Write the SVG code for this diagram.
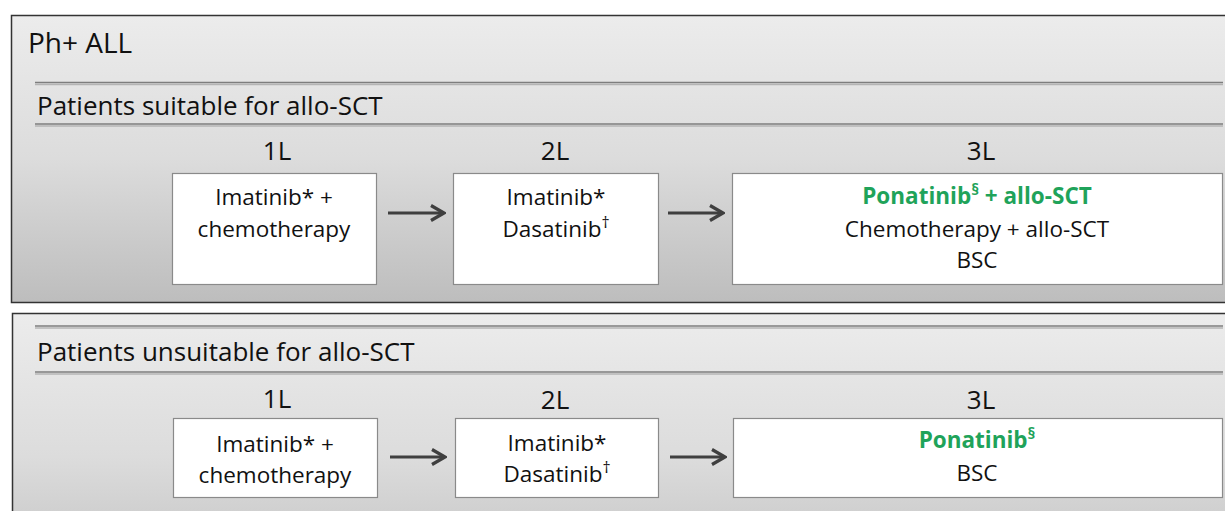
<svg xmlns="http://www.w3.org/2000/svg" width="1225" height="511" viewBox="0 0 1225 511">
  <style>
    text { font-family: "Open Sans", "Liberation Sans", sans-serif; fill: #111; }
    .title { font-size: 28px; }
    .sub { font-size: 26px; }
    .line { font-size: 26px; text-anchor: middle; }
    .box-text { font-size: 22.5px; text-anchor: middle; }
    .green { fill: #1fa35a; font-weight: bold; }
    .sup { font-size: 16px; }
    .panel { stroke: #333; stroke-width: 1.5; fill: url(#panelFill); }
    .box { fill: #fff; stroke: #8a8a8a; stroke-width: 1.2; }
    .rule { stroke: #7e7e7e; stroke-width: 1.6; }
    .rule-shadow { stroke: #b4b4b4; stroke-width: 1.6; }
    .arrow { stroke: #3f3f3f; stroke-width: 3.2; fill: none; marker-end: url(#head); }
  </style>
  <defs>
    <linearGradient id="panelFill" x1="0" y1="0" x2="0" y2="1">
      <stop offset="0" stop-color="#ececec"/>
      <stop offset="0.5" stop-color="#dcdcdc"/>
      <stop offset="1" stop-color="#bdbdbd"/>
    </linearGradient>
    <marker id="head" viewBox="0 0 18 20" refX="16" refY="10" markerWidth="18" markerHeight="20" markerUnits="userSpaceOnUse" orient="auto">
      <path d="M3 2.5 L16 10 L3 17.5" fill="none" stroke="#3f3f3f" stroke-width="3.2" stroke-linejoin="miter"/>
    </marker>
  </defs>

  <rect width="1225" height="511" fill="#fff"/>

  <!-- upper panel: patients suitable for allo-SCT -->
  <g id="panel-suitable">
    <rect class="panel" x="11.5" y="15.5" width="1230" height="287"/>
    <text class="title" x="28" y="53">Ph+ ALL</text>
    <line class="rule-shadow" x1="35" y1="84.5" x2="1223" y2="84.5"/>
    <line class="rule" x1="35" y1="82.5" x2="1223" y2="82.5"/>
    <line class="rule-shadow" x1="35" y1="126" x2="1223" y2="126"/>
    <line class="rule" x1="35" y1="124" x2="1223" y2="124"/>
    <text class="sub" x="37" y="115">Patients suitable for allo-SCT</text>
    <text class="line" x="277" y="160">1L</text>
    <text class="line" x="555" y="160">2L</text>
    <text class="line" x="981" y="160">3L</text>
  </g>

  <g id="s-1L">
    <rect class="box" x="172.5" y="173.5" width="204" height="111"/>
    <text class="box-text" x="274" y="205">Imatinib* +</text>
    <text class="box-text" x="274" y="237">chemotherapy</text>
  </g>
  <g id="s-2L">
    <rect class="box" x="453.5" y="173.5" width="205" height="111"/>
    <text class="box-text" x="556" y="205">Imatinib*</text>
    <text class="box-text" x="556" y="237">Dasatinib<tspan class="sup" dy="-9">†</tspan></text>
  </g>
  <g id="s-3L">
    <rect class="box" x="732.5" y="173.5" width="490" height="111"/>
    <text class="box-text green" x="977" y="204">Ponatinib<tspan class="sup" dy="-9">§</tspan><tspan dy="9"> + allo-SCT</tspan></text>
    <text class="box-text" x="977" y="237">Chemotherapy + allo-SCT</text>
    <text class="box-text" x="977" y="268">BSC</text>
  </g>

  <!-- lower panel: patients unsuitable for allo-SCT -->
  <g id="panel-unsuitable">
    <rect class="panel" x="12.5" y="313.5" width="1230" height="287"/>
    <line class="rule-shadow" x1="35" y1="328" x2="1223" y2="328"/>
    <line class="rule" x1="35" y1="326" x2="1223" y2="326"/>
    <line class="rule-shadow" x1="35" y1="374" x2="1223" y2="374"/>
    <line class="rule" x1="35" y1="372" x2="1223" y2="372"/>
    <text class="sub" x="37" y="361">Patients unsuitable for allo-SCT</text>
    <text class="line" x="277" y="408">1L</text>
    <text class="line" x="555" y="409">2L</text>
    <text class="line" x="981" y="409">3L</text>
  </g>

  <g id="u-1L">
    <rect class="box" x="173.5" y="418.5" width="204" height="79"/>
    <text class="box-text" x="275" y="452">Imatinib* +</text>
    <text class="box-text" x="275" y="483">chemotherapy</text>
  </g>
  <g id="u-2L">
    <rect class="box" x="455.5" y="418.5" width="203" height="79"/>
    <text class="box-text" x="557" y="451">Imatinib*</text>
    <text class="box-text" x="557" y="482">Dasatinib<tspan class="sup" dy="-9">†</tspan></text>
  </g>
  <g id="u-3L">
    <rect class="box" x="733.5" y="418.5" width="489" height="79"/>
    <text class="box-text green" x="977" y="448">Ponatinib<tspan class="sup" dy="-9">§</tspan></text>
    <text class="box-text" x="977" y="481">BSC</text>
  </g>

  <!-- connectors -->
  <g id="connectors">
    <line class="arrow" x1="388" y1="213" x2="444" y2="213"/>
    <line class="arrow" x1="668" y1="213" x2="723" y2="213"/>
    <line class="arrow" x1="390" y1="457" x2="445" y2="457"/>
    <line class="arrow" x1="670" y1="457" x2="725" y2="457"/>
  </g>
</svg>
